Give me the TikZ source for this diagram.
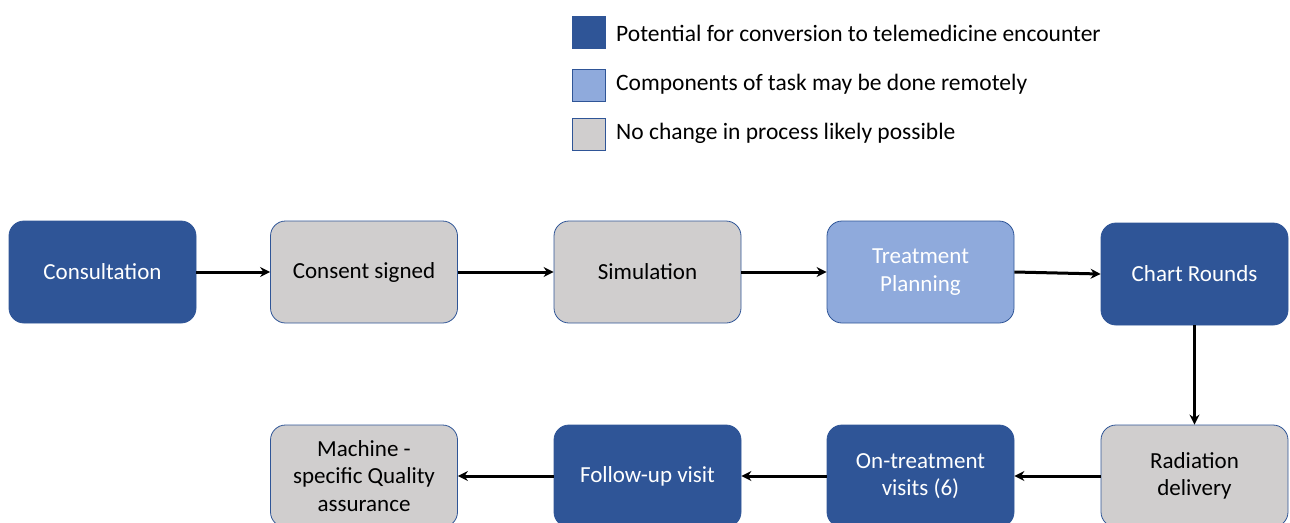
\documentclass[tikz,border=0pt]{standalone}
\usepackage{fontspec}
\setmainfont{Carlito}
\usetikzlibrary{arrows.meta}
\definecolor{teleblue}{HTML}{2F5597}
\definecolor{partblue}{HTML}{8FAADC}
\definecolor{nochange}{HTML}{D0CECE}

\begin{document}
\begin{tikzpicture}[x=1pt,y=-1pt,
	task/.style={draw=teleblue, line width=0.8pt, rounded corners=15pt, minimum width=187pt, minimum height=102pt, inner sep=0pt, align=center, font=\fontsize{23}{27.5}\selectfont},
	tele/.style={task, fill=teleblue, text=white},
	part/.style={task, fill=partblue, text=white},
	same/.style={task, fill=nochange, text=black},
	keybox/.style={draw=teleblue, line width=0.8pt, minimum width=33pt, minimum height=32pt, inner sep=0pt},
	keytext/.style={anchor=west, inner sep=0pt, font=\fontsize{23.5}{28}\selectfont},
	flow/.style={-{Stealth[length=10pt,width=10pt]}, line width=3pt}]
	\useasboundingbox (0,0) rectangle (1290,522);

%% Legend
	\node[keybox, fill=teleblue] (keytele) at (588.5,32) {};
	\node[keybox, fill=partblue] (keypart) at (588.5,85) {};
	\node[keybox, fill=nochange] (keysame) at (588.5,134) {};
	\node[keytext] (texttele) at (616,33) {Potential for conversion to telemedicine encounter};
	\node[keytext] (textpart) at (616,84) {Components of task may be done remotely};
	\node[keytext] (textsame) at (616,133) {No change in process likely possible};

%% Top row
	\node[tele] (consult) at (102.5,272) {Consultation};
	\node[same] (consent) at (364,272) {Consent signed};
	\node[same] (sim) at (647.5,272) {Simulation};
	\node[part] (plan) at (920.5,272) {Treatment\\Planning};
	\node[tele] (rounds) at (1194.5,274) {Chart Rounds};

%% Bottom row
	\node[same] (delivery) at (1194.5,476) {Radiation\\delivery};
	\node[tele] (ontreat) at (920.5,476) {On-treatment\\visits (6)};
	\node[tele] (followup) at (647.5,476) {Follow-up visit};
	\node[same] (qa) at (364,476) {Machine -\\specific Quality\\assurance};

	% Lines
	\draw[flow] (consult.east) -- (consent.west);
	\draw[flow] (consent.east) -- (sim.west);
	\draw[flow] (sim.east) -- (plan.west);
	\draw[flow] (plan.east) -- (rounds.west);
	\draw[flow] (rounds.south) -- (delivery.north);
	\draw[flow] (delivery.west) -- (ontreat.east);
	\draw[flow] (ontreat.west) -- (followup.east);
	\draw[flow] (followup.west) -- (qa.east);
\end{tikzpicture}
\end{document}
